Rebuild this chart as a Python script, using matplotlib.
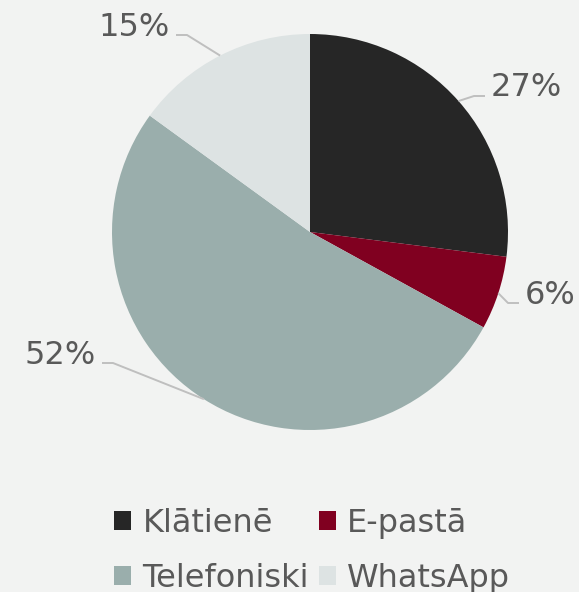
import numpy as np
import matplotlib
matplotlib.use("Agg")
import matplotlib.pyplot as plt
from matplotlib.patches import Patch

categories = ["Klātienē", "E-pastā", "Telefoniski", "WhatsApp"]
values = [27, 6, 52, 15]
colors = ["#262626", "#800020", "#9aaeac", "#dde3e3"]
label_text = ["27%", "6%", "52%", "15%"]

plt.rcParams['font.family'] = ['DejaVu Sans']
W, H = 579, 592
fig = plt.figure(figsize=(W / 100, H / 100), dpi=100, facecolor="#f2f3f2")

cx, cy, R = 310, 232, 198
ax = fig.add_axes([(cx - R) / W, (H - cy - R) / H, 2 * R / W, 2 * R / H])
ax.set_facecolor("none")
wedges, _ = ax.pie(values, colors=colors, startangle=90, counterclock=False,
                   radius=1, wedgeprops=dict(linewidth=0))
ax.set_xlim(-1, 1)
ax.set_ylim(-1, 1)
ax.set_aspect("equal")
ax.axis("off")


def px2d(x, y):
    return (x - cx) / R, (cy - y) / R


# label placement in pixels: (text anchor x, text center y, side)
label_pos = [(491, 88, "left"), (525, 295, "left"),
             (96, 355, "right"), (170, 27, "right")]
for w, txt, (lx, ly, ha) in zip(wedges, label_text, label_pos):
    mid = np.deg2rad((w.theta1 + w.theta2) / 2)
    ex, ey = np.cos(mid), np.sin(mid)
    sgn = 1 if ha == "left" else -1
    line_y = ly + 8
    p_end = px2d(lx - sgn * 6, line_y)
    p_elb = px2d(lx - sgn * 17, line_y)
    ax.plot([p_end[0], p_elb[0], ex], [p_end[1], p_elb[1], ey],
            color="#bfbfbf", lw=1.4, clip_on=False, solid_capstyle="butt")
    tx, ty = px2d(lx, ly)
    ax.text(tx, ty, txt, ha=ha, va="center", fontsize=23, color="#595959")

order = [0, 2, 1, 3]
handles = [Patch(facecolor=colors[i], edgecolor="none") for i in order]
labels = [categories[i] for i in order]
fig.legend(handles, labels, loc="center", ncol=2,
           bbox_to_anchor=(312 / W, 1 - 551 / H), frameon=False,
           fontsize=23, labelcolor="#595959", handlelength=0.55,
           handleheight=0.55, handletextpad=0.35, columnspacing=0.3,
           labelspacing=0.76)

fig.savefig("out.png", dpi=100, facecolor=fig.get_facecolor())
